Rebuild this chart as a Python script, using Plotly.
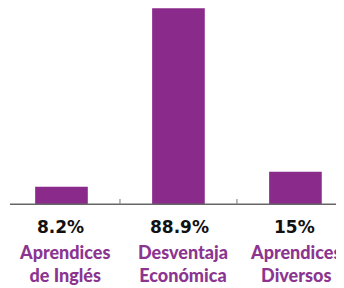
import plotly.graph_objects as go

categories = ["Aprendices<br>de Inglés", "Desventaja<br>Económica", "Aprendices<br>Diversos"]
values = [8.2, 88.9, 15]
positions = [0, 1, 2]

PURPLE = "#8A2A8B"
LABEL_PURPLE = "#8C3590"

fig = go.Figure()
fig.add_trace(go.Bar(
    x=positions, y=values, width=0.45,
    marker=dict(color=PURPLE, line=dict(width=0)),
    hoverinfo="skip",
))

# baseline axis line
fig.add_shape(type="line", xref="paper", yref="y", x0=0, x1=1, y0=0, y1=0,
              line=dict(color="#666666", width=3), layer="above")
# separators between categories
for i in range(len(positions) - 1):
    xm = (positions[i] + positions[i + 1]) / 2
    fig.add_shape(type="line", xref="x", yref="y", x0=xm, x1=xm, y0=2.7, y1=-5,
                  line=dict(color="#777777", width=1), layer="above")

pct_shifts = [-1, 1, -1]
lab_shifts = [3, 5, 0]
for p, v, c, s1, s2 in zip(positions, values, categories, pct_shifts, lab_shifts):
    fig.add_annotation(x=p, y=0, xref="x", yref="y", yanchor="middle", yshift=-22, xshift=s1,
                       text=f"{v:g}%", showarrow=False,
                       font=dict(family="DejaVu Sans", size=17, color="#111111", weight="bold"))
    fig.add_annotation(x=p, y=0, xref="x", yref="y", yanchor="middle", yshift=-58, xshift=s2,
                       text=c, showarrow=False,
                       font=dict(family="Lato", size=18, color=LABEL_PURPLE, weight=900),
                       align="center")

fig.update_layout(
    width=336, height=280,
    margin=dict(l=2, r=0, t=0, b=83),
    plot_bgcolor="white", paper_bgcolor="white",
    showlegend=False,
    xaxis=dict(range=[-0.44, 2.415], visible=False, fixedrange=True),
    yaxis=dict(range=[0, 89], visible=False, fixedrange=True),
)
fig.write_html("out.html", config={"displayModeBar": False})
